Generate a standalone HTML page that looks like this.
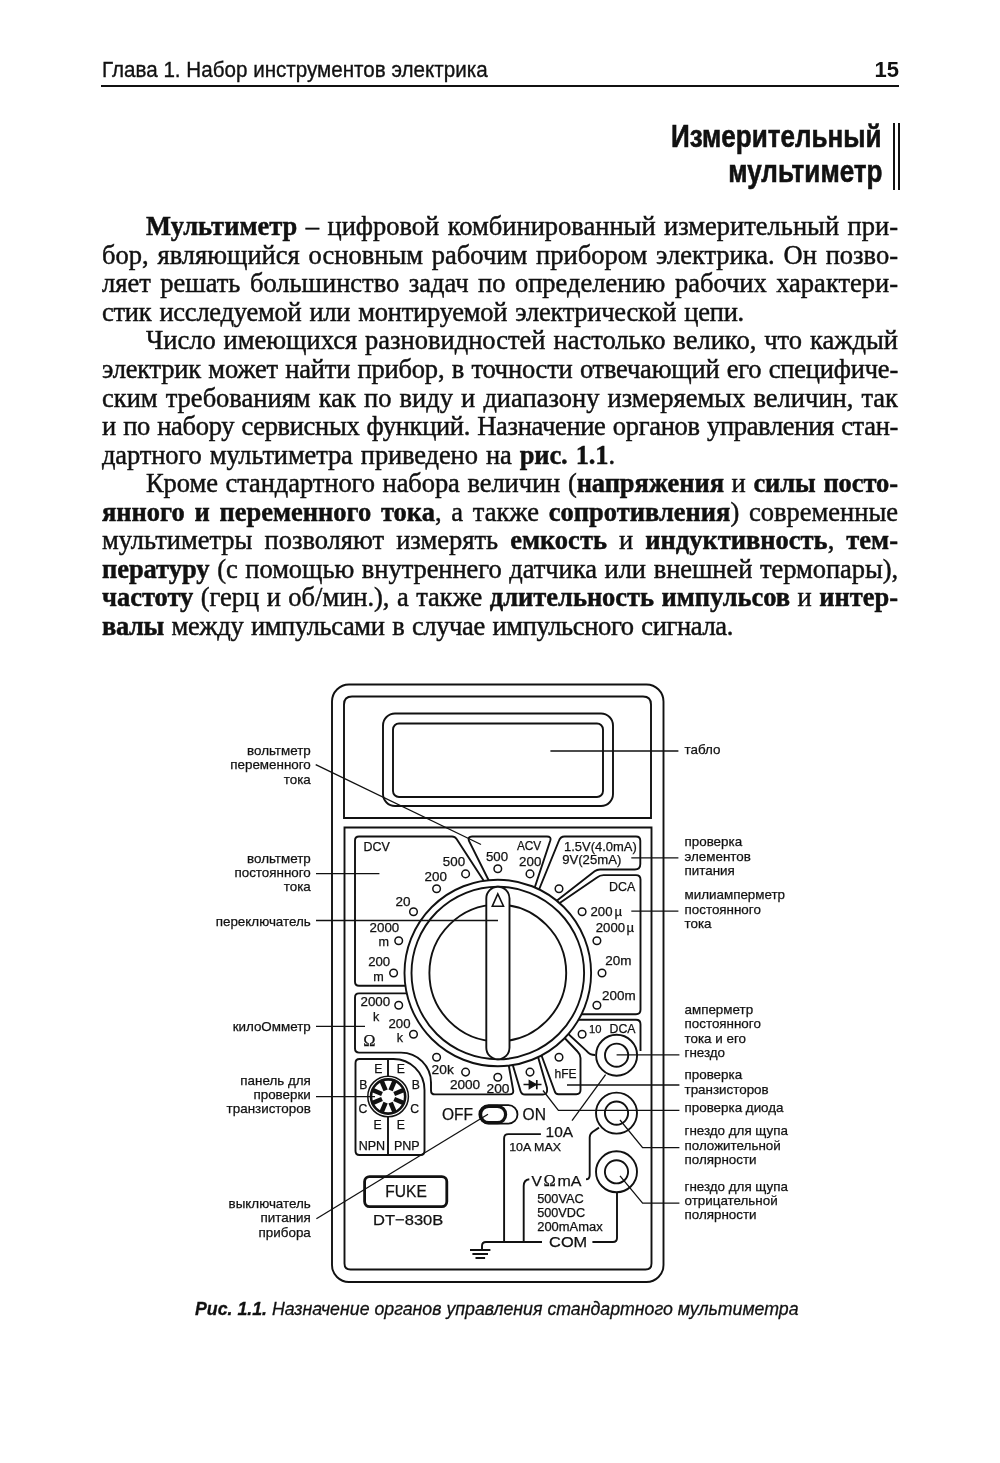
<!DOCTYPE html>
<html lang="ru">
<head>
<meta charset="utf-8">
<style>
html,body{margin:0;padding:0;background:#fff;}
html{filter:grayscale(1);}
body{width:1000px;height:1463px;position:relative;overflow:hidden;color:#111;}
.hdr{position:absolute;left:102px;top:0;font:22px "Liberation Sans",sans-serif;white-space:nowrap;line-height:1;transform:scaleX(0.937);transform-origin:left center;-webkit-text-stroke:0.35px #111;}
.pg{position:absolute;font:bold 22px "Liberation Sans",sans-serif;white-space:nowrap;line-height:1;}
.rule{position:absolute;left:101px;width:798px;top:85.4px;height:1.6px;background:#111;}
.h1{position:absolute;right:118px;font:bold 31.5px "Liberation Sans",sans-serif;white-space:nowrap;line-height:1;transform:scaleX(0.827);-webkit-text-stroke:0.6px #111;transform-origin:right center;}
.vbar{position:absolute;top:123px;height:67px;width:2px;background:#111;}
.ln{position:absolute;left:102px;width:796px;height:28px;font:26.5px "Liberation Serif",serif;line-height:28px;white-space:nowrap;text-align:justify;text-align-last:justify;-webkit-text-stroke:0.45px #111;}
.ln b{font-weight:bold;}
.ind{padding-left:44px;box-sizing:border-box;}
.cap{position:absolute;left:195px;font:italic 18.4px "Liberation Sans",sans-serif;white-space:nowrap;line-height:1;transform:scaleX(0.965);transform-origin:left center;-webkit-text-stroke:0.3px #111;}
svg{position:absolute;left:0;top:0;}
</style>
</head>
<body>
<div class="hdr" style="top:59.1px">Глава 1. Набор инструментов электрика</div>
<div class="pg" style="right:101px;top:59px">15</div>
<div class="rule"></div>
<div class="h1" style="top:120.7px">Измерительный</div>
<div class="h1" style="top:156.3px">мультиметр</div>
<div class="vbar" style="left:893px"></div>
<div class="vbar" style="left:898px"></div>

<div id="body">
<div class="ln ind" style="top:212.16px"><b>Мультиметр</b> – цифровой комбинированный измерительный при-</div>
<div class="ln" style="top:240.72px">бор, являющийся основным рабочим прибором электрика. Он позво-</div>
<div class="ln" style="top:269.28px">ляет решать большинство задач по определению рабочих характери-</div>
<div class="ln" style="top:297.84px;width:642px;letter-spacing:-0.244px">стик исследуемой или монтируемой электрической цепи.</div>
<div class="ln ind" style="top:326.40px;letter-spacing:-0.001px">Число имеющихся разновидностей настолько велико, что каждый</div>
<div class="ln" style="top:354.96px;letter-spacing:-0.212px">электрик может найти прибор, в точности отвечающий его специфиче-</div>
<div class="ln" style="top:383.52px">ским требованиям как по виду и диапазону измеряемых величин, так</div>
<div class="ln" style="top:412.08px;letter-spacing:-0.323px">и по набору сервисных функций. Назначение органов управления стан-</div>
<div class="ln" style="top:440.64px;width:513px;letter-spacing:-0.123px">дартного мультиметра приведено на <b>рис. 1.1</b>.</div>
<div class="ln ind" style="top:469.20px;letter-spacing:-0.074px">Кроме стандартного набора величин (<b>напряжения</b> и <b>силы посто-</b></div>
<div class="ln" style="top:497.76px"><b>янного и переменного тока</b>, а также <b>сопротивления</b>) современные</div>
<div class="ln" style="top:526.32px">мультиметры позволяют измерять <b>емкость</b> и <b>индуктивность</b>, <b>тем-</b></div>
<div class="ln" style="top:554.88px;letter-spacing:-0.058px"><b>пературу</b> (с помощью внутреннего датчика или внешней термопары),</div>
<div class="ln" style="top:583.44px;letter-spacing:-0.022px"><b>частоту</b> (герц и об/мин.), а также <b>длительность импульсов</b> и <b>интер-</b></div>
<div class="ln" style="top:612.00px;width:631px;letter-spacing:-0.361px"><b>валы</b> между импульсами в случае импульсного сигнала.</div>
</div>

<svg id="fig" width="1000" height="1463" viewBox="0 0 1000 1463">
<g fill="none" stroke="#111" stroke-width="1.9">
<rect x="332" y="684.5" width="331.5" height="597.5" rx="17"/>
<path d="M344,818 L344,704.5 Q344,696.5 352,696.5 L643,696.5 Q651,696.5 651,704.5 L651,818 Z"/>
<rect x="383" y="713.5" width="230" height="92.5" rx="12"/>
<rect x="393" y="723.5" width="210" height="73.5" rx="6"/>
<path d="M344.5,827.5 L651.5,827.5 L651.5,1263.5 Q651.5,1269.5 645.5,1269.5 L350.5,1269.5 Q344.5,1269.5 344.5,1263.5 Z"/>
<path d="M412,985.7 L359,985.7 Q355,985.7 355,981.7 L355,840.5 Q355,836.5 359,836.5 L452,836.5 Q455,836.5 456.6,839 L493,895"/>
<path d="M495,893 L469,841 Q467.5,836.5 472,836.5 L547,836.5 Q551.5,836.5 550.3,840.5 L532.9,893"/>
<path d="M536,897 L558.8,841 Q560.3,836.5 564.5,836.5 L636,836.5 Q640.3,836.5 640.3,840.8 L640.3,864 Q640.3,869.5 634.8,869.5 L600,869.5 Q597,869.5 594.6,871.3 L550,906"/>
<path d="M548,911 L597,877.5 Q600,875.1 603.5,875.1 L636,875.1 Q640.5,875.1 640.5,879.6 L640.5,1009.8 Q640.5,1014.3 636,1014.3 L575,1014.3"/>
<path d="M575,1019.7 L636,1019.7 Q640.5,1019.7 640.5,1024.2 L640.5,1051"/>
<path d="M560,1026.3 L586.5,1050.8 Q590,1055 595,1055"/>
<path d="M557,1030 L577.5,1051.5 Q580.5,1054.5 580.5,1058 L580.5,1090 Q580.5,1094.2 576.3,1094.2 L558.5,1094.2 Q555.5,1094.2 554.6,1091 L539.5,1050"/>
<path d="M536.6,1052 L547,1088 Q548,1094.5 543,1094.5 L525,1094.5 Q521.5,1094.5 520.5,1091 L511.3,1060"/>
<path d="M410,993.4 L359,993.4 Q355,993.4 355,997.4 L355,1048.6 Q355,1052.6 359,1052.6 L401,1052.6 A30,30 0 0 1 431,1082.6 L431,1090.4 Q431,1094.4 435,1094.4 L509.5,1094.4 Q513.8,1094.4 513.2,1090.4 L507.8,1060"/>
<path d="M359.5,1059 L393,1059 A31,31 0 0 1 424.5,1090 L424.5,1151 Q424.5,1155 420.5,1155 L359.5,1155 Q355.5,1155 355.5,1151 L355.5,1063 Q355.5,1059 359.5,1059 Z"/>
<path d="M388,1059 L388,1077 M388,1116 L388,1155"/>
</g>
<g stroke="#111" stroke-width="1.9">
<circle cx="497.8" cy="973.0" r="93.3" fill="#fff"/>
<circle cx="497.8" cy="973.0" r="86.3" fill="none"/>
<circle cx="497.8" cy="973.0" r="68.4" fill="none"/>
<rect x="486.3" y="886.8" width="23.2" height="172.5" rx="11.6" fill="#fff"/>
<path d="M497.8,893.9 L492.3,906.2 L503.5,906.2 Z" fill="none" stroke-width="1.6" stroke-linejoin="miter"/>
</g>
<g fill="#fff" stroke="#111" stroke-width="1.5">
<circle cx="497.8" cy="868.8" r="3.8"/>
<circle cx="530.0" cy="873.9" r="3.8"/>
<circle cx="559.0" cy="888.7" r="3.8"/>
<circle cx="582.1" cy="911.8" r="3.8"/>
<circle cx="596.9" cy="940.8" r="3.8"/>
<circle cx="602.0" cy="973.0" r="3.8"/>
<circle cx="596.9" cy="1005.2" r="3.8"/>
<circle cx="582.1" cy="1034.2" r="3.8"/>
<circle cx="559.0" cy="1057.3" r="3.8"/>
<circle cx="530.0" cy="1072.1" r="3.8"/>
<circle cx="497.8" cy="1077.2" r="3.8"/>
<circle cx="465.6" cy="1072.1" r="3.8"/>
<circle cx="436.6" cy="1057.3" r="3.8"/>
<circle cx="413.5" cy="1034.2" r="3.8"/>
<circle cx="398.7" cy="1005.2" r="3.8"/>
<circle cx="393.6" cy="973.0" r="3.8"/>
<circle cx="398.7" cy="940.8" r="3.8"/>
<circle cx="413.5" cy="911.8" r="3.8"/>
<circle cx="436.6" cy="888.7" r="3.8"/>
<circle cx="465.6" cy="873.9" r="3.8"/>
</g>
<g stroke="#111" fill="none">
<circle cx="388.1" cy="1096.5" r="20.3" stroke-width="1.5"/>
<circle cx="388.1" cy="1096.5" r="17.1" stroke-width="2.6"/>
<line x1="390.6" y1="1090.4" x2="394.4" y2="1081.3" stroke-width="4.6"/>
<line x1="394.2" y1="1094.0" x2="403.3" y2="1090.2" stroke-width="4.6"/>
<line x1="394.2" y1="1099.0" x2="403.3" y2="1102.8" stroke-width="4.6"/>
<line x1="390.6" y1="1102.6" x2="394.4" y2="1111.7" stroke-width="4.6"/>
<line x1="385.6" y1="1102.6" x2="381.8" y2="1111.7" stroke-width="4.6"/>
<line x1="382.0" y1="1099.0" x2="372.9" y2="1102.8" stroke-width="4.6"/>
<line x1="382.0" y1="1094.0" x2="372.9" y2="1090.2" stroke-width="4.6"/>
<line x1="385.6" y1="1090.4" x2="381.8" y2="1081.3" stroke-width="4.6"/>
</g>
<g stroke="#111" fill="none" stroke-width="1.9">
<circle cx="616.6" cy="1055.2" r="20.5"/><circle cx="616.6" cy="1055.2" r="11.6"/>
<circle cx="616.5" cy="1113.1" r="20.5"/><circle cx="616.5" cy="1113.1" r="11.6"/>
<circle cx="616.5" cy="1171.8" r="20.5"/><circle cx="616.5" cy="1171.8" r="11.6"/>
</g>
<g stroke="#111" fill="none">
<rect x="479.3" y="1105.2" width="38.2" height="18.4" rx="9.2" stroke-width="1.8"/>
<rect x="480.6" y="1106.3" width="25" height="16.4" rx="8.2" stroke-width="3.2"/>
</g>
<rect x="364.6" y="1176.6" width="82.2" height="30" rx="5" fill="none" stroke="#111" stroke-width="2.8"/>
<g stroke="#111" stroke-width="1.5" fill="none">
<path d="M523.5,1084.5 L541.5,1084.5"/>
<path d="M529.2,1080.6 L529.2,1088.6 L536.2,1084.6 Z" fill="#111" stroke-width="1.2"/>
<path d="M536.8,1080 L536.8,1089.3" stroke-width="1.7"/>
</g>
<g stroke="#111" stroke-width="1.9" fill="none">
<path d="M540.9,1134.1 L508.3,1134.1 Q504.1,1134.1 504.1,1138.3 L504.1,1242"/>
<path d="M529.3,1179.3 Q523.7,1180 523.7,1186 L523.7,1242"/>
<path d="M482,1250 L482,1246 Q482,1242 486,1242 L542,1242"/>
<path d="M592.4,1242 L613,1242 Q617,1242 617,1238 L617,1192.3"/>
<path d="M586,1179.3 Q589.7,1179.3 589.7,1175 L589.7,1137.5 Q589.7,1134 592.5,1132 L599,1127.6"/>
<path d="M470,1250 L490.4,1250 M472.4,1254 L488,1254 M475.5,1258 L485.1,1258"/>
</g>
<g stroke="#111" stroke-width="1.3" fill="none">
<path d="M315.7,764.7 L481,844.5"/>
<path d="M550.4,751 L678.4,751"/>
<path d="M316,873.6 L379.4,873.6"/>
<path d="M316,920.5 L498,920.5"/>
<path d="M631.3,857.9 L678.4,857.9"/>
<path d="M631.3,911.1 L678.4,911.1"/>
<path d="M316,1026.4 L365,1026.4"/>
<path d="M316,1096.7 L375,1096.7"/>
<path d="M316.4,1218.8 L488,1114.2"/>
<path d="M616.6,1054.8 L679.4,1054.8"/>
<path d="M567,1085 L679.4,1085"/>
<path d="M543,1090.5 L558.4,1110.4 L679.4,1110.4"/>
<path d="M620,1120 L642.6,1147.7 L679.4,1147.7"/>
<path d="M620,1175.8 L642.6,1203.2 L679.4,1203.2"/>
<path d="M572,1120.6 L605.6,1074.6"/>
</g>
<g fill="#111" stroke="#111" stroke-width="0.25" font-family="Liberation Sans">
<text x="310.8" y="754.6" font-size="13.4" text-anchor="end" font-family="Liberation Sans" >вольтметр</text>
<text x="310.8" y="769.3" font-size="13.4" text-anchor="end" font-family="Liberation Sans" >переменного</text>
<text x="310.8" y="784" font-size="13.4" text-anchor="end" font-family="Liberation Sans" >тока</text>
<text x="310.8" y="862.6" font-size="13.4" text-anchor="end" font-family="Liberation Sans" >вольтметр</text>
<text x="310.8" y="876.9" font-size="13.4" text-anchor="end" font-family="Liberation Sans" >постоянного</text>
<text x="310.8" y="891.2" font-size="13.4" text-anchor="end" font-family="Liberation Sans" >тока</text>
<text x="310.8" y="925.6" font-size="13.4" text-anchor="end" font-family="Liberation Sans" >переключатель</text>
<text x="310.8" y="1031" font-size="13.4" text-anchor="end" font-family="Liberation Sans" >килоОмметр</text>
<text x="310.8" y="1084.7" font-size="13.4" text-anchor="end" font-family="Liberation Sans" >панель для</text>
<text x="310.8" y="1098.9" font-size="13.4" text-anchor="end" font-family="Liberation Sans" >проверки</text>
<text x="310.8" y="1113.2" font-size="13.4" text-anchor="end" font-family="Liberation Sans" >транзисторов</text>
<text x="310.8" y="1207.8" font-size="13.4" text-anchor="end" font-family="Liberation Sans" >выключатель</text>
<text x="310.8" y="1222.2" font-size="13.4" text-anchor="end" font-family="Liberation Sans" >питания</text>
<text x="310.8" y="1236.5" font-size="13.4" text-anchor="end" font-family="Liberation Sans" >прибора</text>
<text x="684.5" y="754.1" font-size="13.4" text-anchor="start" font-family="Liberation Sans" >табло</text>
<text x="684.5" y="846.3" font-size="13.4" text-anchor="start" font-family="Liberation Sans" >проверка</text>
<text x="684.5" y="860.8" font-size="13.4" text-anchor="start" font-family="Liberation Sans" >элементов</text>
<text x="684.5" y="875.3" font-size="13.4" text-anchor="start" font-family="Liberation Sans" >питания</text>
<text x="684.5" y="899.4" font-size="13.4" text-anchor="start" font-family="Liberation Sans" >милиамперметр</text>
<text x="684.5" y="913.8" font-size="13.4" text-anchor="start" font-family="Liberation Sans" >постоянного</text>
<text x="684.5" y="928.2" font-size="13.4" text-anchor="start" font-family="Liberation Sans" >тока</text>
<text x="684.5" y="1013.8" font-size="13.4" text-anchor="start" font-family="Liberation Sans" >амперметр</text>
<text x="684.5" y="1028.3" font-size="13.4" text-anchor="start" font-family="Liberation Sans" >постоянного</text>
<text x="684.5" y="1042.8" font-size="13.4" text-anchor="start" font-family="Liberation Sans" >тока и его</text>
<text x="684.5" y="1057.3" font-size="13.4" text-anchor="start" font-family="Liberation Sans" >гнездо</text>
<text x="684.5" y="1079.4" font-size="13.4" text-anchor="start" font-family="Liberation Sans" >проверка</text>
<text x="684.5" y="1093.8" font-size="13.4" text-anchor="start" font-family="Liberation Sans" >транзисторов</text>
<text x="684.5" y="1112.3" font-size="13.4" text-anchor="start" font-family="Liberation Sans" >проверка диода</text>
<text x="684.5" y="1135.2" font-size="13.4" text-anchor="start" font-family="Liberation Sans" >гнездо для щупа</text>
<text x="684.5" y="1149.5" font-size="13.4" text-anchor="start" font-family="Liberation Sans" >положительной</text>
<text x="684.5" y="1163.8" font-size="13.4" text-anchor="start" font-family="Liberation Sans" >полярности</text>
<text x="684.5" y="1190.6" font-size="13.4" text-anchor="start" font-family="Liberation Sans" >гнездо для щупа</text>
<text x="684.5" y="1205" font-size="13.4" text-anchor="start" font-family="Liberation Sans" >отрицательной</text>
<text x="684.5" y="1219.3" font-size="13.4" text-anchor="start" font-family="Liberation Sans" >полярности</text>
<text x="363.5" y="850.8" font-size="12.2" text-anchor="start" font-family="Liberation Sans"  textLength="26.3" lengthAdjust="spacingAndGlyphs">DCV</text>
<text x="442.8" y="866" font-size="12.6" text-anchor="start" font-family="Liberation Sans"  textLength="22.3" lengthAdjust="spacingAndGlyphs">500</text>
<text x="424.6" y="880.6" font-size="12.6" text-anchor="start" font-family="Liberation Sans"  textLength="22.3" lengthAdjust="spacingAndGlyphs">200</text>
<text x="395.5" y="906.2" font-size="12.6" text-anchor="start" font-family="Liberation Sans"  textLength="15.0" lengthAdjust="spacingAndGlyphs">20</text>
<text x="369.6" y="931.5" font-size="12.6" text-anchor="start" font-family="Liberation Sans"  textLength="29.7" lengthAdjust="spacingAndGlyphs">2000</text>
<text x="389" y="946" font-size="12.6" text-anchor="end" font-family="Liberation Sans" >m</text>
<text x="368.2" y="966.1" font-size="12.6" text-anchor="start" font-family="Liberation Sans"  textLength="22.0" lengthAdjust="spacingAndGlyphs">200</text>
<text x="383.7" y="980.5" font-size="12.6" text-anchor="end" font-family="Liberation Sans" >m</text>
<text x="360.5" y="1005.7" font-size="12.6" text-anchor="start" font-family="Liberation Sans"  textLength="29.7" lengthAdjust="spacingAndGlyphs">2000</text>
<text x="372.9" y="1020.7" font-size="12.6" text-anchor="start" font-family="Liberation Sans" >k</text>
<text x="388.5" y="1027.7" font-size="12.6" text-anchor="start" font-family="Liberation Sans"  textLength="22.0" lengthAdjust="spacingAndGlyphs">200</text>
<text x="396.7" y="1042.4" font-size="12.6" text-anchor="start" font-family="Liberation Sans" >k</text>
<text x="363.3" y="1046.2" font-size="16.5" text-anchor="start" font-family="Liberation Serif" >Ω</text>
<text x="431.6" y="1074.3" font-size="12.6" text-anchor="start" font-family="Liberation Sans"  textLength="22.2" lengthAdjust="spacingAndGlyphs">20k</text>
<text x="449.9" y="1089.4" font-size="12.6" text-anchor="start" font-family="Liberation Sans"  textLength="30.3" lengthAdjust="spacingAndGlyphs">2000</text>
<text x="486.5" y="1092.7" font-size="12.6" text-anchor="start" font-family="Liberation Sans"  textLength="23.0" lengthAdjust="spacingAndGlyphs">200</text>
<text x="516.9" y="850.4" font-size="12.2" text-anchor="start" font-family="Liberation Sans"  textLength="24.4" lengthAdjust="spacingAndGlyphs">ACV</text>
<text x="486.0" y="860.8" font-size="12.6" text-anchor="start" font-family="Liberation Sans"  textLength="22.1" lengthAdjust="spacingAndGlyphs">500</text>
<text x="519.1" y="866" font-size="12.6" text-anchor="start" font-family="Liberation Sans"  textLength="22.2" lengthAdjust="spacingAndGlyphs">200</text>
<text x="564.0" y="850.6" font-size="13.0" text-anchor="start" font-family="Liberation Sans"  textLength="72.7" lengthAdjust="spacingAndGlyphs">1.5V(4.0mA)</text>
<text x="562.2" y="863.9" font-size="13.0" text-anchor="start" font-family="Liberation Sans"  textLength="59.1" lengthAdjust="spacingAndGlyphs">9V(25mA)</text>
<text x="609.1" y="891.1" font-size="12.2" text-anchor="start" font-family="Liberation Sans"  textLength="26.2" lengthAdjust="spacingAndGlyphs">DCA</text>
<text x="590.5" y="915.6" font-size="12.6" text-anchor="start" font-family="Liberation Sans"  textLength="22.0" lengthAdjust="spacingAndGlyphs">200</text>
<text x="614.6" y="915.6" font-size="13.2" text-anchor="start" font-family="Liberation Sans" >µ</text>
<text x="595.8" y="931.6" font-size="12.6" text-anchor="start" font-family="Liberation Sans"  textLength="29.3" lengthAdjust="spacingAndGlyphs">2000</text>
<text x="626.4" y="931.6" font-size="13.2" text-anchor="start" font-family="Liberation Sans" >µ</text>
<text x="605.3" y="965" font-size="12.6" text-anchor="start" font-family="Liberation Sans"  textLength="26.2" lengthAdjust="spacingAndGlyphs">20m</text>
<text x="602.1" y="999.7" font-size="12.6" text-anchor="start" font-family="Liberation Sans"  textLength="33.6" lengthAdjust="spacingAndGlyphs">200m</text>
<text x="589.0" y="1032.5" font-size="11.5" text-anchor="start" font-family="Liberation Sans"  textLength="12.5" lengthAdjust="spacingAndGlyphs">10</text>
<text x="609.5" y="1032.5" font-size="12.2" text-anchor="start" font-family="Liberation Sans"  textLength="26.0" lengthAdjust="spacingAndGlyphs">DCA</text>
<text x="554.5" y="1078" font-size="12.2" text-anchor="start" font-family="Liberation Sans"  textLength="22.0" lengthAdjust="spacingAndGlyphs">hFE</text>
<text x="374.2" y="1073.2" font-size="12.2" text-anchor="start" font-family="Liberation Sans" >E</text>
<text x="396.7" y="1073.2" font-size="12.2" text-anchor="start" font-family="Liberation Sans" >E</text>
<text x="359.2" y="1089.3" font-size="12.2" text-anchor="start" font-family="Liberation Sans" >B</text>
<text x="411.7" y="1089.3" font-size="12.2" text-anchor="start" font-family="Liberation Sans" >B</text>
<text x="358.5" y="1113" font-size="12.2" text-anchor="start" font-family="Liberation Sans" >C</text>
<text x="410.2" y="1113" font-size="12.2" text-anchor="start" font-family="Liberation Sans" >C</text>
<text x="373.5" y="1128.7" font-size="12.2" text-anchor="start" font-family="Liberation Sans" >E</text>
<text x="396.7" y="1128.7" font-size="12.2" text-anchor="start" font-family="Liberation Sans" >E</text>
<text x="358.7" y="1149.7" font-size="12.2" text-anchor="start" font-family="Liberation Sans"  textLength="26.5" lengthAdjust="spacingAndGlyphs">NPN</text>
<text x="394.0" y="1149.7" font-size="12.2" text-anchor="start" font-family="Liberation Sans"  textLength="25.7" lengthAdjust="spacingAndGlyphs">PNP</text>
<text x="442.0" y="1120.1" font-size="15.6" text-anchor="start" font-family="Liberation Sans"  textLength="31.0" lengthAdjust="spacingAndGlyphs">OFF</text>
<text x="522.5" y="1120.1" font-size="15.6" text-anchor="start" font-family="Liberation Sans"  textLength="23.4" lengthAdjust="spacingAndGlyphs">ON</text>
<text x="385.3" y="1196.8" font-size="15.8" text-anchor="start" font-family="Liberation Sans"  textLength="41.5" lengthAdjust="spacingAndGlyphs">FUKE</text>
<text x="373.0" y="1225" font-size="15.2" text-anchor="start" font-family="Liberation Sans"  textLength="70.3" lengthAdjust="spacingAndGlyphs">DT−830B</text>
<text x="545.6" y="1136.9" font-size="15" text-anchor="start" font-family="Liberation Sans"  textLength="27.6" lengthAdjust="spacingAndGlyphs">10A</text>
<text x="509.2" y="1151.3" font-size="11" text-anchor="start" font-family="Liberation Sans"  textLength="51.8" lengthAdjust="spacingAndGlyphs">10A MAX</text>
<text x="531.4" y="1185.6" font-size="15.5" text-anchor="start" font-family="Liberation Sans" >V</text>
<text x="543.6" y="1185.6" font-size="16.5" text-anchor="start" font-family="Liberation Serif" >Ω</text>
<text x="557.5" y="1185.6" font-size="15.5" text-anchor="start" font-family="Liberation Sans"  textLength="24.0" lengthAdjust="spacingAndGlyphs">mA</text>
<text x="537.2" y="1202.6" font-size="12.3" text-anchor="start" font-family="Liberation Sans"  textLength="46.5" lengthAdjust="spacingAndGlyphs">500VAC</text>
<text x="537.2" y="1216.6" font-size="12.3" text-anchor="start" font-family="Liberation Sans"  textLength="47.9" lengthAdjust="spacingAndGlyphs">500VDC</text>
<text x="537.2" y="1230.6" font-size="12.3" text-anchor="start" font-family="Liberation Sans"  textLength="65.5" lengthAdjust="spacingAndGlyphs">200mAmax</text>
<text x="549.1" y="1247.4" font-size="15.3" text-anchor="start" font-family="Liberation Sans"  textLength="38.1" lengthAdjust="spacingAndGlyphs">COM</text>
</g>
</svg>

<div class="cap" style="top:1300.1px"><b>Рис. 1.1.</b> Назначение органов управления стандартного мультиметра</div>
</body>
</html>
